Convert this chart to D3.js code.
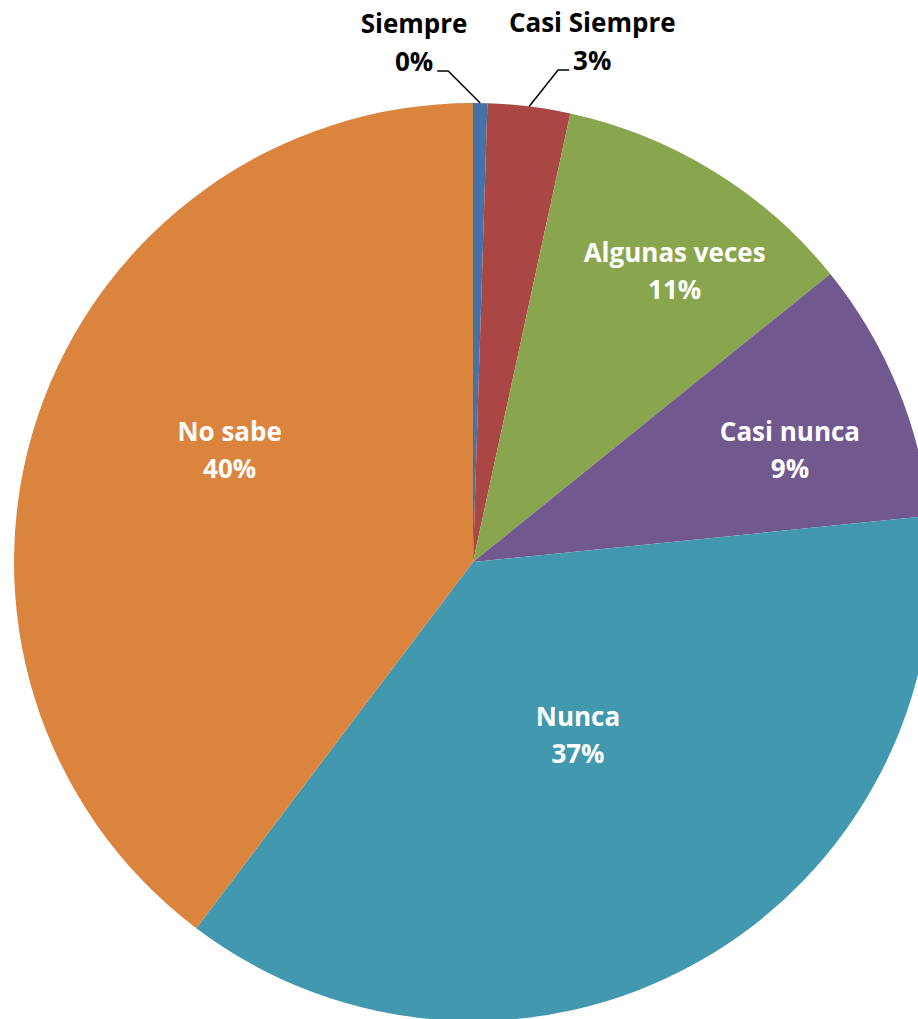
<!DOCTYPE html>
<html>
<head>
<meta charset="utf-8">
<script src="https://d3js.org/d3.v7.min.js"></script>
<style>
  body { margin: 0; background: #fff; }
  svg { display: block; }
</style>
</head>
<body>
<div id="chart"></div>
<script>
// values (percent of answers), clockwise from 12 o'clock
const categories = ["Siempre", "Casi Siempre", "Algunas veces", "Casi nunca", "Nunca", "No sabe"];
const values = [0.5, 2.9, 10.8, 9.2, 36.9, 39.7];
const percentLabels = ["0%", "3%", "11%", "9%", "37%", "40%"];

const colors = ["#4572A7", "#AA4643", "#89A54E", "#71588F", "#4198AF", "#DB843D"];

const svgWidth = 918;
const svgHeight = 1019;
const cx = 473, cy = 562, radius = 459;

const data = categories.map((c, i) => ({ name: c, value: values[i], pct: percentLabels[i], color: colors[i] }));

const svg = d3.select("#chart")
  .append("svg")
  .attr("width", svgWidth)
  .attr("height", svgHeight)
  .style("font-family", "'Open Sans', sans-serif");

const chart = svg.append("g")
  .attr("transform", `translate(${cx},${cy})`);

const pie = d3.pie().sort(null).value(d => d.value);
const arcs = pie(data);

const arc = d3.arc().innerRadius(0).outerRadius(radius);

chart.selectAll("path.slice")
  .data(arcs)
  .enter()
  .append("path")
  .attr("class", "slice")
  .attr("d", arc)
  .attr("fill", d => d.data.color);

// label placement: radius fraction inside the slice + small nudge (like Excel best fit)
const insideLayout = {
  "Algunas veces": { f: 0.77, dx: 16, dy: 10 },
  "Casi nunca": { f: 0.73, dx: 7, dy: 16 },
  "Nunca": { f: 0.44, dx: 6, dy: -3 },
  "No sabe": { f: 0.58, dx: 9, dy: -27 }
};
const outsideLayout = {
  "Siempre": { side: -1, elbowDx: -32, elbowY: -491 },
  "Casi Siempre": { side: 1, elbowDx: 29, elbowY: -492 }
};

const fontSize = 26;
const lineGap = 37;

function midAngle(d) { return (d.startAngle + d.endAngle) / 2; }

arcs.forEach(d => {
  const a = midAngle(d);
  const name = d.data.name;
  if (insideLayout[name]) {
    const L = insideLayout[name];
    const r = radius * L.f;
    const x = Math.sin(a) * r + L.dx;
    const y = -Math.cos(a) * r + L.dy;
    const t = chart.append("text")
      .attr("text-anchor", "middle")
      .style("font-size", fontSize + "px")
      .style("font-weight", "bold")
      .style("fill", "#fff");
    t.append("tspan").attr("x", x).attr("y", y - lineGap / 2 + 9).text(name);
    t.append("tspan").attr("x", x).attr("y", y + lineGap / 2 + 9).text(d.data.pct);
  } else {
    const L = outsideLayout[name];
    const ex = Math.sin(a) * radius;
    const ey = -Math.cos(a) * radius;
    const elbowX = ex + L.elbowDx;
    const elbowY = L.elbowY;
    const endX = elbowX + L.side * 11;
    chart.append("polyline")
      .attr("points", [[ex, ey], [elbowX, elbowY], [endX, elbowY]].map(p => p.join(",")).join(" "))
      .attr("fill", "none")
      .attr("stroke", "#000")
      .attr("stroke-width", 1.5);

    const pctNode = chart.append("text")
      .attr("text-anchor", L.side < 0 ? "end" : "start")
      .attr("x", endX + L.side * 4)
      .attr("y", elbowY)
      .style("font-size", fontSize + "px")
      .style("font-weight", "bold")
      .style("fill", "#000")
      .text(d.data.pct);
    const bb = pctNode.node().getBBox();
    const centerX = bb.x + bb.width / 2;
    chart.append("text")
      .attr("text-anchor", "middle")
      .attr("x", centerX)
      .attr("y", elbowY - 38)
      .style("font-size", fontSize + "px")
      .style("font-weight", "bold")
      .style("fill", "#000")
      .text(name);
  }
});
</script>
</body>
</html>
